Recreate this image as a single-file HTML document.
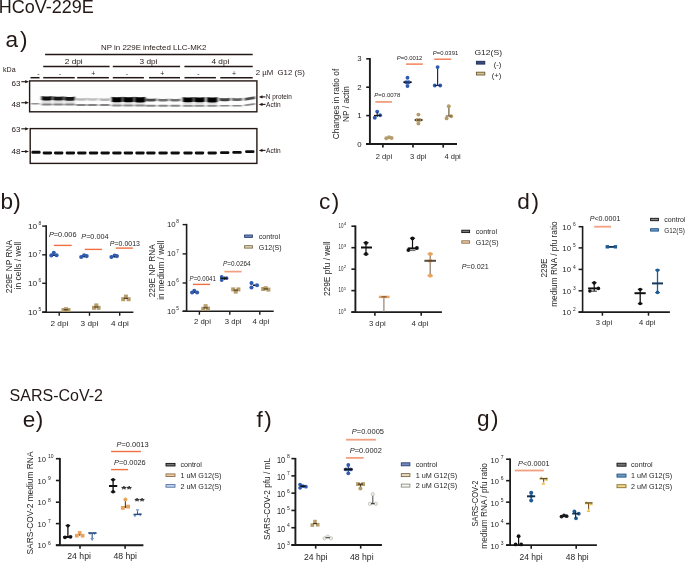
<!DOCTYPE html>
<html><head><meta charset="utf-8"><title>Figure</title><style>
html,body{margin:0;padding:0;background:#fff;}
svg{display:block;font-family:"Liberation Sans",sans-serif;will-change:transform;}
</style></head><body>
<svg width="685" height="562" viewBox="0 0 685 562">
<rect width="685" height="562" fill="#fff"/>
<text x="-1.3" y="13.0" font-size="17.8" textLength="95.2" lengthAdjust="spacingAndGlyphs" fill="#231815">HCoV-229E</text>
<text x="5.4" y="46.5" font-size="22.6" textLength="22.2" lengthAdjust="spacing" fill="#231815">a)</text>
<text x="0.6" y="208.8" font-size="22.6" textLength="20.3" lengthAdjust="spacing" fill="#231815">b)</text>
<text x="319.0" y="209.0" font-size="22.6" textLength="20.3" lengthAdjust="spacing" fill="#231815">c)</text>
<text x="517.2" y="208.8" font-size="22.6" textLength="21.8" lengthAdjust="spacing" fill="#231815">d)</text>
<text x="9.6" y="400.5" font-size="15.6" textLength="93.4" lengthAdjust="spacingAndGlyphs" fill="#231815">SARS-CoV-2</text>
<text x="22.8" y="426.9" font-size="22.6" textLength="20.6" lengthAdjust="spacing" fill="#231815">e)</text>
<text x="256.5" y="426.7" font-size="22.6" textLength="15.2" lengthAdjust="spacing" fill="#231815">f)</text>
<text x="476.9" y="426.3" font-size="22.6" textLength="21.6" lengthAdjust="spacing" fill="#231815">g)</text>
<text x="101.0" y="49.9" font-size="7.6" textLength="105.5" lengthAdjust="spacingAndGlyphs" fill="#231815">NP in 229E infected LLC-MK2</text>
<line x1="45.1" y1="54.6" x2="252.7" y2="54.6" stroke="#231815" stroke-width="1.5" stroke-linecap="butt"/>
<line x1="43.2" y1="66.6" x2="109.6" y2="66.6" stroke="#231815" stroke-width="1.5" stroke-linecap="butt"/>
<line x1="112.8" y1="66.6" x2="180.1" y2="66.6" stroke="#231815" stroke-width="1.5" stroke-linecap="butt"/>
<line x1="184.4" y1="66.6" x2="252.7" y2="66.6" stroke="#231815" stroke-width="1.5" stroke-linecap="butt"/>
<text x="73.7" y="63.7" font-size="7.8" text-anchor="middle" textLength="17.9" lengthAdjust="spacingAndGlyphs" fill="#231815">2 dpi</text>
<text x="148.5" y="63.7" font-size="7.8" text-anchor="middle" textLength="17.9" lengthAdjust="spacingAndGlyphs" fill="#231815">3 dpi</text>
<text x="220.4" y="63.7" font-size="7.8" text-anchor="middle" textLength="17.9" lengthAdjust="spacingAndGlyphs" fill="#231815">4 dpi</text>
<line x1="30.5" y1="77.7" x2="39.6" y2="77.7" stroke="#231815" stroke-width="1.5" stroke-linecap="butt"/>
<line x1="43.2" y1="77.7" x2="74.7" y2="77.7" stroke="#231815" stroke-width="1.5" stroke-linecap="butt"/>
<line x1="77.2" y1="77.7" x2="108.9" y2="77.7" stroke="#231815" stroke-width="1.5" stroke-linecap="butt"/>
<line x1="112.8" y1="77.7" x2="143.9" y2="77.7" stroke="#231815" stroke-width="1.5" stroke-linecap="butt"/>
<line x1="149.0" y1="77.7" x2="180.0" y2="77.7" stroke="#231815" stroke-width="1.5" stroke-linecap="butt"/>
<line x1="184.5" y1="77.7" x2="215.9" y2="77.7" stroke="#231815" stroke-width="1.5" stroke-linecap="butt"/>
<line x1="220.3" y1="77.7" x2="252.7" y2="77.7" stroke="#231815" stroke-width="1.5" stroke-linecap="butt"/>
<text x="38.3" y="75.8" font-size="7.0" text-anchor="middle" fill="#231815">-</text>
<text x="60.0" y="75.8" font-size="7.0" text-anchor="middle" fill="#231815">-</text>
<text x="93.3" y="75.8" font-size="7.0" text-anchor="middle" fill="#231815">+</text>
<text x="126.8" y="75.8" font-size="7.0" text-anchor="middle" fill="#231815">-</text>
<text x="162.2" y="75.8" font-size="7.0" text-anchor="middle" fill="#231815">+</text>
<text x="198.4" y="75.8" font-size="7.0" text-anchor="middle" fill="#231815">-</text>
<text x="234.1" y="75.8" font-size="7.0" text-anchor="middle" fill="#231815">+</text>
<text x="3.0" y="72.3" font-size="7.0" textLength="12.6" lengthAdjust="spacingAndGlyphs" fill="#231815">kDa</text>
<text x="255.8" y="75.4" font-size="7.6" textLength="49.0" lengthAdjust="spacingAndGlyphs" fill="#231815">2 µM  G12 (S)</text>
<text x="20.5" y="85.6" font-size="7.8" text-anchor="end" textLength="9.0" lengthAdjust="spacingAndGlyphs" fill="#231815">63</text>
<text x="20.5" y="106.7" font-size="7.8" text-anchor="end" textLength="9.0" lengthAdjust="spacingAndGlyphs" fill="#231815">48</text>
<text x="20.5" y="132.0" font-size="7.8" text-anchor="end" textLength="9.0" lengthAdjust="spacingAndGlyphs" fill="#231815">63</text>
<text x="20.5" y="153.8" font-size="7.8" text-anchor="end" textLength="9.0" lengthAdjust="spacingAndGlyphs" fill="#231815">48</text>
<line x1="21.3" y1="81.7" x2="26.0" y2="81.7" stroke="#231815" stroke-width="1.1" stroke-linecap="butt"/>
<polygon points="25.2,80.10000000000001 29.0,81.7 25.2,83.3" fill="#231815"/>
<line x1="21.3" y1="102.7" x2="26.0" y2="102.7" stroke="#231815" stroke-width="1.1" stroke-linecap="butt"/>
<polygon points="25.2,101.10000000000001 29.0,102.7 25.2,104.3" fill="#231815"/>
<line x1="21.3" y1="128.8" x2="26.0" y2="128.8" stroke="#231815" stroke-width="1.1" stroke-linecap="butt"/>
<polygon points="25.2,127.20000000000002 29.0,128.8 25.2,130.4" fill="#231815"/>
<line x1="21.3" y1="151.5" x2="26.0" y2="151.5" stroke="#231815" stroke-width="1.1" stroke-linecap="butt"/>
<polygon points="25.2,149.9 29.0,151.5 25.2,153.1" fill="#231815"/>
<line x1="261.5" y1="96.9" x2="265.5" y2="96.9" stroke="#231815" stroke-width="1.1" stroke-linecap="butt"/>
<polygon points="262.5,95.30000000000001 258.8,96.9 262.5,98.5" fill="#231815"/>
<line x1="261.5" y1="104.4" x2="265.5" y2="104.4" stroke="#231815" stroke-width="1.1" stroke-linecap="butt"/>
<polygon points="262.5,102.80000000000001 258.8,104.4 262.5,106.0" fill="#231815"/>
<line x1="261.5" y1="150.4" x2="265.5" y2="150.4" stroke="#231815" stroke-width="1.1" stroke-linecap="butt"/>
<polygon points="262.5,148.8 258.8,150.4 262.5,152.0" fill="#231815"/>
<text x="265.8" y="98.9" font-size="7.2" textLength="26.0" lengthAdjust="spacingAndGlyphs" fill="#231815">N protein</text>
<text x="266.0" y="106.6" font-size="7.2" textLength="14.6" lengthAdjust="spacingAndGlyphs" fill="#231815">Actin</text>
<text x="266.0" y="152.6" font-size="7.2" textLength="14.6" lengthAdjust="spacingAndGlyphs" fill="#231815">Actin</text>
<defs><filter id="bl" x="-20%" y="-60%" width="140%" height="220%"><feGaussianBlur stdDeviation="0.85 0.6"/></filter><filter id="bl2" x="-20%" y="-60%" width="140%" height="220%"><feGaussianBlur stdDeviation="0.6 0.5"/></filter><filter id="bl3" x="-20%" y="-60%" width="140%" height="220%"><feGaussianBlur stdDeviation="0.9 0.9"/></filter><clipPath id="c1"><rect x="29.6" y="81" width="227.3" height="30.6"/></clipPath><clipPath id="c2"><rect x="30.2" y="128.6" width="226.7" height="34.8"/></clipPath></defs>
<g clip-path="url(#c1)">
<rect x="29.6" y="81" width="227.3" height="30.6" fill="#fdfdfd"/>
<g filter="url(#bl3)">
<rect x="41.80" y="99.80" width="10" height="4.20" fill="#dcdcdc"/>
<rect x="53.30" y="100.00" width="10" height="4.00" fill="#dcdcdc"/>
<rect x="64.70" y="100.10" width="10" height="3.90" fill="#dcdcdc"/>
<rect x="111.90" y="101.70" width="10" height="3.20" fill="#dcdcdc"/>
<rect x="123.40" y="101.70" width="10" height="3.20" fill="#dcdcdc"/>
<rect x="135.00" y="101.80" width="10" height="3.10" fill="#dcdcdc"/>
<rect x="183.00" y="101.70" width="10" height="3.80" fill="#dcdcdc"/>
<rect x="194.50" y="101.70" width="10" height="3.80" fill="#dcdcdc"/>
<rect x="207.20" y="101.80" width="10" height="3.70" fill="#dcdcdc"/>
</g>
<g filter="url(#bl)">
<rect x="30.70" y="102.9" width="9.0" height="1.70" rx="1.2" fill="rgb(145,145,145)"/>
<rect x="41.50" y="103.5" width="10.6" height="2.00" rx="1.2" fill="rgb(130,130,130)"/>
<path d="M41.50,96.10 Q46.80,97.10 52.10,96.10 L52.10,99.90 Q46.80,100.90 41.50,99.90Z" fill="rgb(8,8,8)"/>
<rect x="53.00" y="103.5" width="10.6" height="2.00" rx="1.2" fill="rgb(130,130,130)"/>
<path d="M53.00,96.30 Q58.30,97.30 63.60,96.30 L63.60,100.10 Q58.30,101.10 53.00,100.10Z" fill="rgb(18,18,18)"/>
<rect x="64.40" y="103.5" width="10.6" height="2.00" rx="1.2" fill="rgb(130,130,130)"/>
<path d="M64.40,96.50 Q69.70,97.50 75.00,96.50 L75.00,100.20 Q69.70,101.20 64.40,100.20Z" fill="rgb(22,22,22)"/>
<rect x="75.80" y="104.0" width="10.6" height="1.90" rx="1.2" fill="rgb(130,130,130)"/>
<path d="M75.80,97.70 Q81.10,98.70 86.40,97.70 L86.40,100.20 Q81.10,101.20 75.80,100.20Z" fill="rgb(185,185,185)"/>
<rect x="87.10" y="104.0" width="10.6" height="1.90" rx="1.2" fill="rgb(130,130,130)"/>
<path d="M87.10,97.80 Q92.40,98.80 97.70,97.80 L97.70,100.30 Q92.40,101.30 87.10,100.30Z" fill="rgb(192,192,192)"/>
<rect x="99.40" y="104.0" width="10.6" height="1.90" rx="1.2" fill="rgb(130,130,130)"/>
<path d="M99.40,97.90 Q104.70,98.90 110.00,97.90 L110.00,100.50 Q104.70,101.50 99.40,100.50Z" fill="rgb(180,180,180)"/>
<rect x="111.60" y="104.4" width="10.6" height="2.00" rx="1.2" fill="rgb(140,140,140)"/>
<path d="M111.60,96.70 Q116.90,97.70 122.20,96.70 L122.20,101.80 Q116.90,102.80 111.60,101.80Z" fill="rgb(0,0,0)"/>
<rect x="123.10" y="104.4" width="10.6" height="2.00" rx="1.2" fill="rgb(140,140,140)"/>
<path d="M123.10,96.70 Q128.40,97.70 133.70,96.70 L133.70,101.80 Q128.40,102.80 123.10,101.80Z" fill="rgb(0,0,0)"/>
<rect x="134.70" y="104.4" width="10.6" height="2.00" rx="1.2" fill="rgb(140,140,140)"/>
<path d="M134.70,96.80 Q140.00,97.80 145.30,96.80 L145.30,101.90 Q140.00,102.90 134.70,101.90Z" fill="rgb(0,0,0)"/>
<rect x="145.60" y="104.7" width="10.6" height="2.00" rx="1.2" fill="rgb(135,135,135)"/>
<path d="M145.60,98.20 Q150.90,99.20 156.20,98.20 L156.20,101.10 Q150.90,102.10 145.60,101.10Z" fill="rgb(70,70,70)"/>
<rect x="157.80" y="104.7" width="10.6" height="2.00" rx="1.2" fill="rgb(135,135,135)"/>
<path d="M157.80,98.40 Q163.10,99.40 168.40,98.40 L168.40,101.10 Q163.10,102.10 157.80,101.10Z" fill="rgb(110,110,110)"/>
<rect x="169.90" y="104.7" width="10.6" height="2.00" rx="1.2" fill="rgb(135,135,135)"/>
<path d="M169.90,98.40 Q175.20,99.40 180.50,98.40 L180.50,101.10 Q175.20,102.10 169.90,101.10Z" fill="rgb(110,110,110)"/>
<rect x="182.70" y="105.0" width="10.6" height="1.80" rx="1.2" fill="rgb(140,140,140)"/>
<path d="M182.70,97.00 Q188.00,98.00 193.30,97.00 L193.30,101.80 Q188.00,102.80 182.70,101.80Z" fill="rgb(0,0,0)"/>
<rect x="194.20" y="105.0" width="10.6" height="1.80" rx="1.2" fill="rgb(140,140,140)"/>
<path d="M194.20,97.00 Q199.50,98.00 204.80,97.00 L204.80,101.80 Q199.50,102.80 194.20,101.80Z" fill="rgb(0,0,0)"/>
<rect x="206.90" y="105.0" width="10.6" height="1.80" rx="1.2" fill="rgb(140,140,140)"/>
<path d="M206.90,97.10 Q212.20,98.10 217.50,97.10 L217.50,101.90 Q212.20,102.90 206.90,101.90Z" fill="rgb(2,2,2)"/>
<rect x="219.40" y="104.9" width="10.6" height="1.70" rx="1.2" fill="rgb(135,135,135)"/>
<path d="M219.40,97.70 Q224.70,98.70 230.00,97.70 L230.00,100.70 Q224.70,101.70 219.40,100.70Z" fill="rgb(65,65,65)"/>
<rect x="231.70" y="104.9" width="10.6" height="1.70" rx="1.2" fill="rgb(135,135,135)"/>
<path d="M231.70,97.80 Q237.00,98.80 242.30,97.80 L242.30,100.50 Q237.00,101.50 231.70,100.50Z" fill="rgb(100,100,100)"/>
<path d="M244.50,104.50 L255.10,103.10 L255.10,104.80 L244.50,106.20Z" fill="rgb(135,135,135)"/>
<path d="M244.50,97.90 L255.10,96.20 L255.10,99.00 L244.50,100.70Z" fill="rgb(75,75,75)"/>
</g></g>
<rect x="29.6" y="80.9" width="227.3" height="30.9" fill="none" stroke="#231815" stroke-width="1.4"/>
<g clip-path="url(#c2)">
<rect x="30.2" y="128.6" width="226.7" height="34.8" fill="#fefefe"/>
<g filter="url(#bl2)">
<rect x="31.40" y="150.80" width="9.2" height="2.9" rx="1.3" fill="#101010"/>
<rect x="42.70" y="151.50" width="9.4" height="2.9" rx="1.3" fill="#101010"/>
<rect x="54.00" y="151.50" width="9.4" height="2.9" rx="1.3" fill="#101010"/>
<rect x="65.70" y="151.50" width="9.4" height="2.9" rx="1.3" fill="#101010"/>
<rect x="77.10" y="151.50" width="9.4" height="2.9" rx="1.3" fill="#101010"/>
<rect x="88.80" y="151.50" width="9.4" height="2.9" rx="1.3" fill="#101010"/>
<rect x="100.50" y="151.50" width="9.4" height="2.9" rx="1.3" fill="#101010"/>
<rect x="112.20" y="151.50" width="9.4" height="2.9" rx="1.3" fill="#101010"/>
<rect x="123.70" y="151.50" width="9.4" height="2.9" rx="1.3" fill="#101010"/>
<rect x="135.30" y="151.50" width="9.4" height="2.9" rx="1.3" fill="#101010"/>
<rect x="146.20" y="151.50" width="9.4" height="2.9" rx="1.3" fill="#101010"/>
<rect x="158.40" y="151.50" width="9.4" height="2.9" rx="1.3" fill="#101010"/>
<rect x="170.50" y="151.50" width="9.4" height="2.9" rx="1.3" fill="#101010"/>
<rect x="183.30" y="151.50" width="9.4" height="2.9" rx="1.3" fill="#101010"/>
<rect x="194.80" y="151.50" width="9.4" height="2.9" rx="1.3" fill="#101010"/>
<rect x="207.50" y="151.50" width="9.4" height="2.9" rx="1.3" fill="#101010"/>
<rect x="220.00" y="151.20" width="9.4" height="2.9" rx="1.3" fill="#101010"/>
<rect x="232.30" y="150.90" width="9.4" height="2.9" rx="1.3" fill="#101010"/>
<rect x="245.10" y="150.20" width="9.4" height="2.9" rx="1.3" fill="#101010"/>
</g></g>
<rect x="30.2" y="128.6" width="226.7" height="34.8" fill="none" stroke="#231815" stroke-width="1.4"/>
<line x1="369.9" y1="58.0" x2="369.9" y2="144.9" stroke="#1c1c1c" stroke-width="1.9" stroke-linecap="butt"/>
<line x1="366.0" y1="144.0" x2="457.0" y2="144.0" stroke="#1c1c1c" stroke-width="1.9" stroke-linecap="butt"/>
<line x1="366.2" y1="144.0" x2="369.9" y2="144.0" stroke="#1c1c1c" stroke-width="1.6" stroke-linecap="butt"/>
<text x="361.6" y="146.5" font-size="7.8" text-anchor="end" fill="#262626">0</text>
<line x1="366.2" y1="115.6" x2="369.9" y2="115.6" stroke="#1c1c1c" stroke-width="1.6" stroke-linecap="butt"/>
<text x="361.6" y="118.1" font-size="7.8" text-anchor="end" fill="#262626">1</text>
<line x1="366.2" y1="87.2" x2="369.9" y2="87.2" stroke="#1c1c1c" stroke-width="1.6" stroke-linecap="butt"/>
<text x="361.6" y="89.7" font-size="7.8" text-anchor="end" fill="#262626">2</text>
<line x1="366.2" y1="58.80000000000001" x2="369.9" y2="58.80000000000001" stroke="#1c1c1c" stroke-width="1.6" stroke-linecap="butt"/>
<text x="361.6" y="61.30000000000001" font-size="7.8" text-anchor="end" fill="#262626">3</text>
<line x1="382.9" y1="144.0" x2="382.9" y2="147.6" stroke="#1c1c1c" stroke-width="1.7" stroke-linecap="butt"/>
<line x1="413.0" y1="144.0" x2="413.0" y2="147.6" stroke="#1c1c1c" stroke-width="1.7" stroke-linecap="butt"/>
<line x1="443.2" y1="144.0" x2="443.2" y2="147.6" stroke="#1c1c1c" stroke-width="1.7" stroke-linecap="butt"/>
<text x="384.0" y="159.3" font-size="7.8" text-anchor="middle" textLength="16.4" lengthAdjust="spacingAndGlyphs" fill="#262626">2 dpi</text>
<text x="418.3" y="159.3" font-size="7.8" text-anchor="middle" textLength="16.4" lengthAdjust="spacingAndGlyphs" fill="#262626">3 dpi</text>
<text x="452.6" y="159.3" font-size="7.8" text-anchor="middle" textLength="16.4" lengthAdjust="spacingAndGlyphs" fill="#262626">4 dpi</text>
<text transform="translate(339.31,104.0) rotate(-90)" x="0" y="0" font-size="8.3" text-anchor="middle" textLength="70.5" lengthAdjust="spacingAndGlyphs" fill="#262626">Changes in ratio of</text>
<text transform="translate(349.01,104.0) rotate(-90)" x="0" y="0" font-size="8.3" text-anchor="middle" fill="#262626">NP / actin</text>
<circle cx="377.2" cy="111.6" r="1.95" fill="#2f5cb0"/>
<circle cx="380.1" cy="115.3" r="1.95" fill="#2f5cb0"/>
<circle cx="374.8" cy="117.7" r="1.95" fill="#2f5cb0"/>
<line x1="374.0" y1="115.4" x2="381.0" y2="115.4" stroke="#111" stroke-width="1.1" stroke-linecap="butt"/>
<line x1="377.2" y1="112.5" x2="377.2" y2="117.0" stroke="#111" stroke-width="1.0" stroke-linecap="butt"/>
<circle cx="386.3" cy="138.2" r="1.95" fill="#b49c6b"/>
<circle cx="389.0" cy="137.3" r="1.95" fill="#b49c6b"/>
<circle cx="391.6" cy="138.0" r="1.95" fill="#b49c6b"/>
<circle cx="407.5" cy="77.7" r="1.95" fill="#2f5cb0"/>
<circle cx="406.2" cy="82.2" r="1.95" fill="#2f5cb0"/>
<circle cx="408.7" cy="82.2" r="1.95" fill="#2f5cb0"/>
<circle cx="407.5" cy="86.0" r="1.95" fill="#2f5cb0"/>
<line x1="403.4" y1="82.2" x2="405.4" y2="82.2" stroke="#111" stroke-width="1.7" stroke-linecap="butt"/>
<line x1="409.8" y1="82.2" x2="411.7" y2="82.2" stroke="#111" stroke-width="1.7" stroke-linecap="butt"/>
<line x1="406.0" y1="82.2" x2="409.0" y2="82.2" stroke="#10204a" stroke-width="1.0" stroke-linecap="butt"/>
<circle cx="418.4" cy="114.6" r="1.95" fill="#b49c6b"/>
<circle cx="417.2" cy="120.0" r="1.95" fill="#b49c6b"/>
<circle cx="419.8" cy="120.0" r="1.95" fill="#b49c6b"/>
<circle cx="418.4" cy="123.6" r="1.95" fill="#b49c6b"/>
<line x1="414.7" y1="120.0" x2="416.2" y2="120.0" stroke="#3a2e18" stroke-width="1.7" stroke-linecap="butt"/>
<line x1="420.8" y1="120.0" x2="422.6" y2="120.0" stroke="#3a2e18" stroke-width="1.7" stroke-linecap="butt"/>
<line x1="417.0" y1="120.0" x2="420.0" y2="120.0" stroke="#3a2e18" stroke-width="1.1" stroke-linecap="butt"/>
<line x1="437.6" y1="67.1" x2="437.6" y2="85.5" stroke="#1d2b57" stroke-width="1.2" stroke-linecap="butt"/>
<circle cx="437.6" cy="67.1" r="1.95" fill="#2f5cb0"/>
<circle cx="434.8" cy="85.5" r="1.95" fill="#2f5cb0"/>
<circle cx="440.2" cy="85.5" r="1.95" fill="#2f5cb0"/>
<line x1="434.5" y1="85.5" x2="440.5" y2="85.5" stroke="#1d2b57" stroke-width="1.0" stroke-linecap="butt"/>
<line x1="448.9" y1="106.2" x2="448.9" y2="116.0" stroke="#6b5a33" stroke-width="1.2" stroke-linecap="butt"/>
<circle cx="448.8" cy="106.2" r="1.95" fill="#b49c6b"/>
<circle cx="446.6" cy="118.4" r="1.95" fill="#b49c6b"/>
<circle cx="451.2" cy="116.3" r="1.95" fill="#b49c6b"/>
<line x1="445.8" y1="116.0" x2="451.8" y2="116.0" stroke="#6b5a33" stroke-width="1.1" stroke-linecap="butt"/>
<text x="374.3" y="97.2" font-size="6.1" textLength="26.0" lengthAdjust="spacingAndGlyphs" fill="#262626"><tspan font-style="italic">P</tspan>=0.0078</text>
<line x1="375.4" y1="101.9" x2="392.0" y2="101.9" stroke="#f1a081" stroke-width="1.9" stroke-linecap="butt"/>
<text x="396.8" y="59.8" font-size="6.1" textLength="25.5" lengthAdjust="spacingAndGlyphs" fill="#262626"><tspan font-style="italic">P</tspan>=0.0012</text>
<line x1="406.0" y1="64.1" x2="422.8" y2="64.1" stroke="#ef6f40" stroke-width="1.3" stroke-linecap="butt"/>
<text x="432.8" y="54.5" font-size="6.1" textLength="25.4" lengthAdjust="spacingAndGlyphs" fill="#262626"><tspan font-style="italic">P</tspan>=0.0391</text>
<line x1="434.2" y1="59.2" x2="451.2" y2="59.2" stroke="#ef6f40" stroke-width="1.3" stroke-linecap="butt"/>
<text x="474.4" y="55.3" font-size="8.0" textLength="27.6" lengthAdjust="spacingAndGlyphs" fill="#262626">G12(S)</text>
<rect x="476.4" y="61.3" width="8.4" height="2.8" fill="#3c4c7c" stroke="#1d2b57" stroke-width="0.9"/>
<text x="501.3" y="67.4" font-size="7.6" text-anchor="end" fill="#262626">(-)</text>
<rect x="476.4" y="72.2" width="8.4" height="2.8" fill="#d4c49c" stroke="#6e5a32" stroke-width="0.9"/>
<text x="501.3" y="77.9" font-size="7.6" text-anchor="end" fill="#262626">(+)</text>
<line x1="46.2" y1="225.35" x2="46.2" y2="312.95" stroke="#1c1c1c" stroke-width="1.6" stroke-linecap="butt"/>
<line x1="42.2" y1="312.2" x2="133.4" y2="312.2" stroke="#1c1c1c" stroke-width="1.6" stroke-linecap="butt"/>
<line x1="42.2" y1="226.1" x2="46.2" y2="226.1" stroke="#1c1c1c" stroke-width="1.4" stroke-linecap="butt"/>
<text x="27.990000000000002" y="228.6" font-size="8.0" textLength="9.26" lengthAdjust="spacingAndGlyphs" fill="#262626">10</text>
<text x="38.6" y="224.79999999999998" font-size="4.8" fill="#262626">8</text>
<line x1="42.2" y1="254.8" x2="46.2" y2="254.8" stroke="#1c1c1c" stroke-width="1.4" stroke-linecap="butt"/>
<text x="27.990000000000002" y="257.3" font-size="8.0" textLength="9.26" lengthAdjust="spacingAndGlyphs" fill="#262626">10</text>
<text x="38.6" y="253.5" font-size="4.8" fill="#262626">7</text>
<line x1="42.2" y1="283.3" x2="46.2" y2="283.3" stroke="#1c1c1c" stroke-width="1.4" stroke-linecap="butt"/>
<text x="27.990000000000002" y="285.8" font-size="8.0" textLength="9.26" lengthAdjust="spacingAndGlyphs" fill="#262626">10</text>
<text x="38.6" y="282.0" font-size="4.8" fill="#262626">6</text>
<line x1="42.2" y1="312.0" x2="46.2" y2="312.0" stroke="#1c1c1c" stroke-width="1.4" stroke-linecap="butt"/>
<text x="27.990000000000002" y="314.5" font-size="8.0" textLength="9.26" lengthAdjust="spacingAndGlyphs" fill="#262626">10</text>
<text x="38.6" y="310.7" font-size="4.8" fill="#262626">5</text>
<line x1="59.2" y1="312.2" x2="59.2" y2="315.8" stroke="#1c1c1c" stroke-width="1.4" stroke-linecap="butt"/>
<line x1="89.5" y1="312.2" x2="89.5" y2="315.8" stroke="#1c1c1c" stroke-width="1.4" stroke-linecap="butt"/>
<line x1="119.7" y1="312.2" x2="119.7" y2="315.8" stroke="#1c1c1c" stroke-width="1.4" stroke-linecap="butt"/>
<text x="59.4" y="326.4" font-size="7.8" text-anchor="middle" textLength="17.8" lengthAdjust="spacingAndGlyphs" fill="#262626">2 dpi</text>
<text x="89.5" y="326.4" font-size="7.8" text-anchor="middle" textLength="17.8" lengthAdjust="spacingAndGlyphs" fill="#262626">3 dpi</text>
<text x="119.9" y="326.4" font-size="7.8" text-anchor="middle" textLength="17.8" lengthAdjust="spacingAndGlyphs" fill="#262626">4 dpi</text>
<text transform="translate(11.84,266.5) rotate(-90)" x="0" y="0" font-size="8.4" text-anchor="middle" textLength="53.4" lengthAdjust="spacingAndGlyphs" fill="#262626">229E NP RNA</text>
<text transform="translate(20.89,265.6) rotate(-90)" x="0" y="0" font-size="8.6" text-anchor="middle" textLength="47.5" lengthAdjust="spacingAndGlyphs" fill="#262626">in cells / well</text>
<line x1="52.6" y1="255.2" x2="55.199999999999996" y2="255.2" stroke="#111" stroke-width="1.4" stroke-linecap="butt"/>
<circle cx="51.3" cy="255.4" r="2.05" fill="#2f5cb0"/>
<circle cx="53.8" cy="252.8" r="2.05" fill="#2f5cb0"/>
<circle cx="56.6" cy="255.3" r="2.05" fill="#2f5cb0"/>
<circle cx="53.9" cy="255.2" r="0.7" fill="#10204a"/>
<line x1="82.8" y1="256.6" x2="85.39999999999999" y2="256.6" stroke="#111" stroke-width="1.4" stroke-linecap="butt"/>
<circle cx="81.2" cy="257.0" r="2.05" fill="#2f5cb0"/>
<circle cx="84.1" cy="255.2" r="2.05" fill="#2f5cb0"/>
<circle cx="86.7" cy="256.1" r="2.05" fill="#2f5cb0"/>
<circle cx="84.1" cy="256.6" r="0.7" fill="#10204a"/>
<line x1="113.10000000000001" y1="256.6" x2="115.7" y2="256.6" stroke="#111" stroke-width="1.4" stroke-linecap="butt"/>
<circle cx="111.4" cy="257.0" r="2.05" fill="#2f5cb0"/>
<circle cx="114.6" cy="255.5" r="2.05" fill="#2f5cb0"/>
<circle cx="116.9" cy="256.1" r="2.05" fill="#2f5cb0"/>
<circle cx="114.4" cy="256.6" r="0.7" fill="#10204a"/>
<rect x="61.5" y="308.0" width="4.0" height="4.0" fill="#b49c6b"/>
<rect x="64.0" y="307.2" width="4.0" height="4.0" fill="#b49c6b"/>
<rect x="66.5" y="308.0" width="4.0" height="4.0" fill="#b49c6b"/>
<line x1="63.8" y1="309.73333333333335" x2="68.2" y2="309.73333333333335" stroke="#4a3a1a" stroke-width="1.1" stroke-linecap="butt"/>
<rect x="92.0" y="305.8" width="4.0" height="4.0" fill="#b49c6b"/>
<rect x="94.3" y="303.4" width="4.0" height="4.0" fill="#b49c6b"/>
<rect x="96.6" y="305.8" width="4.0" height="4.0" fill="#b49c6b"/>
<line x1="94.1" y1="307.0" x2="98.5" y2="307.0" stroke="#4a3a1a" stroke-width="1.1" stroke-linecap="butt"/>
<rect x="121.2" y="297.2" width="4.0" height="4.0" fill="#b49c6b"/>
<rect x="123.9" y="294.6" width="4.0" height="4.0" fill="#b49c6b"/>
<rect x="126.6" y="297.2" width="4.0" height="4.0" fill="#b49c6b"/>
<line x1="123.69999999999999" y1="298.3333333333333" x2="128.1" y2="298.3333333333333" stroke="#4a3a1a" stroke-width="1.1" stroke-linecap="butt"/>
<text x="48.9" y="236.6" font-size="7.4" textLength="27.6" lengthAdjust="spacingAndGlyphs" fill="#262626"><tspan font-style="italic">P</tspan>=0.006</text>
<line x1="53.9" y1="245.4" x2="71.7" y2="245.4" stroke="#ef6f40" stroke-width="1.4" stroke-linecap="butt"/>
<text x="81.3" y="239.1" font-size="7.4" textLength="27.2" lengthAdjust="spacingAndGlyphs" fill="#262626"><tspan font-style="italic">P</tspan>=0.004</text>
<line x1="84.8" y1="249.4" x2="101.9" y2="249.4" stroke="#ef6f40" stroke-width="1.4" stroke-linecap="butt"/>
<text x="109.8" y="245.5" font-size="7.4" textLength="30.2" lengthAdjust="spacingAndGlyphs" fill="#262626"><tspan font-style="italic">P</tspan>=0.0013</text>
<line x1="115.8" y1="248.1" x2="132.9" y2="248.1" stroke="#ef6f40" stroke-width="1.4" stroke-linecap="butt"/>
<line x1="186.6" y1="223.85" x2="186.6" y2="311.95" stroke="#1c1c1c" stroke-width="1.6" stroke-linecap="butt"/>
<line x1="182.6" y1="311.2" x2="273.7" y2="311.2" stroke="#1c1c1c" stroke-width="1.6" stroke-linecap="butt"/>
<line x1="182.6" y1="224.6" x2="186.6" y2="224.6" stroke="#1c1c1c" stroke-width="1.4" stroke-linecap="butt"/>
<text x="166.95" y="227.1" font-size="8.0" textLength="8.68" lengthAdjust="spacingAndGlyphs" fill="#262626">10</text>
<text x="176.3" y="223.29999999999998" font-size="4.8" fill="#262626">8</text>
<line x1="182.6" y1="253.9" x2="186.6" y2="253.9" stroke="#1c1c1c" stroke-width="1.4" stroke-linecap="butt"/>
<text x="166.95" y="256.4" font-size="8.0" textLength="8.68" lengthAdjust="spacingAndGlyphs" fill="#262626">10</text>
<text x="176.3" y="252.6" font-size="4.8" fill="#262626">7</text>
<line x1="182.6" y1="283.0" x2="186.6" y2="283.0" stroke="#1c1c1c" stroke-width="1.4" stroke-linecap="butt"/>
<text x="166.95" y="285.5" font-size="8.0" textLength="8.68" lengthAdjust="spacingAndGlyphs" fill="#262626">10</text>
<text x="176.3" y="281.7" font-size="4.8" fill="#262626">6</text>
<line x1="182.6" y1="311.2" x2="186.6" y2="311.2" stroke="#1c1c1c" stroke-width="1.4" stroke-linecap="butt"/>
<text x="166.95" y="313.7" font-size="8.0" textLength="8.68" lengthAdjust="spacingAndGlyphs" fill="#262626">10</text>
<text x="176.3" y="309.9" font-size="4.8" fill="#262626">5</text>
<line x1="199.4" y1="311.2" x2="199.4" y2="314.8" stroke="#1c1c1c" stroke-width="1.4" stroke-linecap="butt"/>
<line x1="229.8" y1="311.2" x2="229.8" y2="314.8" stroke="#1c1c1c" stroke-width="1.4" stroke-linecap="butt"/>
<line x1="259.8" y1="311.2" x2="259.8" y2="314.8" stroke="#1c1c1c" stroke-width="1.4" stroke-linecap="butt"/>
<text x="202.5" y="324.2" font-size="7.6" text-anchor="middle" textLength="16.8" lengthAdjust="spacingAndGlyphs" fill="#262626">2 dpi</text>
<text x="233.1" y="324.2" font-size="7.6" text-anchor="middle" textLength="16.8" lengthAdjust="spacingAndGlyphs" fill="#262626">3 dpi</text>
<text x="260.9" y="324.2" font-size="7.6" text-anchor="middle" textLength="16.8" lengthAdjust="spacingAndGlyphs" fill="#262626">4 dpi</text>
<text transform="translate(154.94,270.8) rotate(-90)" x="0" y="0" font-size="8.4" text-anchor="middle" textLength="53.0" lengthAdjust="spacingAndGlyphs" fill="#262626">229E NP RNA</text>
<text transform="translate(164.09,270.2) rotate(-90)" x="0" y="0" font-size="8.6" text-anchor="middle" textLength="59.2" lengthAdjust="spacingAndGlyphs" fill="#262626">in medium / well</text>
<line x1="193.2" y1="292.3" x2="195.8" y2="292.3" stroke="#111" stroke-width="1.4" stroke-linecap="butt"/>
<circle cx="192.1" cy="292.5" r="2.05" fill="#2f5cb0"/>
<circle cx="194.3" cy="290.9" r="2.05" fill="#2f5cb0"/>
<circle cx="197.1" cy="292.5" r="2.05" fill="#2f5cb0"/>
<circle cx="194.5" cy="292.3" r="0.7" fill="#10204a"/>
<rect x="201.2" y="306.8" width="4.0" height="4.0" fill="#b49c6b"/>
<rect x="203.6" y="304.2" width="4.0" height="4.0" fill="#b49c6b"/>
<rect x="206.0" y="306.6" width="4.0" height="4.0" fill="#b49c6b"/>
<line x1="203.4" y1="307.8666666666667" x2="207.79999999999998" y2="307.8666666666667" stroke="#4a3a1a" stroke-width="1.1" stroke-linecap="butt"/>
<circle cx="221.7" cy="276.9" r="1.9" fill="#2f5cb0"/>
<circle cx="221.7" cy="280.0" r="1.9" fill="#2f5cb0"/>
<circle cx="226.5" cy="278.2" r="1.9" fill="#2f5cb0"/>
<line x1="220.5" y1="278.3" x2="227.5" y2="278.3" stroke="#111" stroke-width="1.3" stroke-linecap="butt"/>
<line x1="224.2" y1="276.6" x2="224.2" y2="280.0" stroke="#111" stroke-width="1.2" stroke-linecap="butt"/>
<rect x="231.2" y="287.4" width="4.0" height="4.0" fill="#b49c6b"/>
<rect x="233.7" y="289.6" width="4.0" height="4.0" fill="#b49c6b"/>
<rect x="236.4" y="287.4" width="4.0" height="4.0" fill="#b49c6b"/>
<line x1="233.56666666666666" y1="290.1333333333333" x2="237.96666666666664" y2="290.1333333333333" stroke="#4a3a1a" stroke-width="1.1" stroke-linecap="butt"/>
<line x1="253.0" y1="285.3" x2="255.60000000000002" y2="285.3" stroke="#111" stroke-width="1.4" stroke-linecap="butt"/>
<circle cx="251.5" cy="283.1" r="2.05" fill="#2f5cb0"/>
<circle cx="251.5" cy="287.5" r="2.05" fill="#2f5cb0"/>
<circle cx="257.0" cy="285.3" r="2.05" fill="#2f5cb0"/>
<circle cx="254.3" cy="285.3" r="0.7" fill="#10204a"/>
<rect x="261.2" y="287.0" width="4.0" height="4.0" fill="#b49c6b"/>
<rect x="263.7" y="286.2" width="4.0" height="4.0" fill="#b49c6b"/>
<rect x="266.4" y="287.6" width="4.0" height="4.0" fill="#b49c6b"/>
<line x1="263.56666666666666" y1="288.93333333333334" x2="267.96666666666664" y2="288.93333333333334" stroke="#4a3a1a" stroke-width="1.1" stroke-linecap="butt"/>
<text x="189.6" y="281.3" font-size="6.6" textLength="26.3" lengthAdjust="spacingAndGlyphs" fill="#262626"><tspan font-style="italic">P</tspan>=0.0041</text>
<line x1="193.0" y1="284.4" x2="210.0" y2="284.4" stroke="#ef6f40" stroke-width="1.4" stroke-linecap="butt"/>
<text x="223.0" y="266.0" font-size="6.6" textLength="27.6" lengthAdjust="spacingAndGlyphs" fill="#262626"><tspan font-style="italic">P</tspan>=0.0264</text>
<line x1="224.4" y1="271.6" x2="241.6" y2="271.6" stroke="#f1a081" stroke-width="1.7" stroke-linecap="butt"/>
<rect x="244.6" y="235.0" width="7.8" height="2.4" fill="#7089be" stroke="#2a3f73" stroke-width="0.9"/>
<text x="258.8" y="238.9" font-size="7.2" textLength="21.3" lengthAdjust="spacingAndGlyphs" fill="#262626">control</text>
<rect x="244.6" y="245.7" width="7.8" height="2.4" fill="#e4d9bf" stroke="#7b6a45" stroke-width="0.9"/>
<text x="258.8" y="249.6" font-size="7.2" textLength="22.8" lengthAdjust="spacingAndGlyphs" fill="#262626">G12(S)</text>
<line x1="355.4" y1="225.45" x2="355.4" y2="312.85" stroke="#1c1c1c" stroke-width="1.9" stroke-linecap="butt"/>
<line x1="351.4" y1="312.1" x2="441.9" y2="312.1" stroke="#1c1c1c" stroke-width="1.9" stroke-linecap="butt"/>
<line x1="351.4" y1="226.2" x2="355.4" y2="226.2" stroke="#1c1c1c" stroke-width="1.6" stroke-linecap="butt"/>
<text x="338.41999999999996" y="227.79999999999998" font-size="6.4" textLength="4.98" lengthAdjust="spacingAndGlyphs" fill="#262626">10</text>
<text x="343.8" y="225.39999999999998" font-size="4.4" fill="#262626">4</text>
<line x1="351.4" y1="247.67499999999998" x2="355.4" y2="247.67499999999998" stroke="#1c1c1c" stroke-width="1.6" stroke-linecap="butt"/>
<text x="338.41999999999996" y="249.27499999999998" font-size="6.4" textLength="4.98" lengthAdjust="spacingAndGlyphs" fill="#262626">10</text>
<text x="343.8" y="246.87499999999997" font-size="4.4" fill="#262626">3</text>
<line x1="351.4" y1="269.15" x2="355.4" y2="269.15" stroke="#1c1c1c" stroke-width="1.6" stroke-linecap="butt"/>
<text x="338.41999999999996" y="270.75" font-size="6.4" textLength="4.98" lengthAdjust="spacingAndGlyphs" fill="#262626">10</text>
<text x="343.8" y="268.34999999999997" font-size="4.4" fill="#262626">2</text>
<line x1="351.4" y1="290.625" x2="355.4" y2="290.625" stroke="#1c1c1c" stroke-width="1.6" stroke-linecap="butt"/>
<text x="338.41999999999996" y="292.225" font-size="6.4" textLength="4.98" lengthAdjust="spacingAndGlyphs" fill="#262626">10</text>
<text x="343.8" y="289.825" font-size="4.4" fill="#262626">1</text>
<line x1="351.4" y1="312.1" x2="355.4" y2="312.1" stroke="#1c1c1c" stroke-width="1.6" stroke-linecap="butt"/>
<text x="338.41999999999996" y="313.70000000000005" font-size="6.4" textLength="4.98" lengthAdjust="spacingAndGlyphs" fill="#262626">10</text>
<text x="343.8" y="311.3" font-size="4.4" fill="#262626">0</text>
<line x1="374.9" y1="312.1" x2="374.9" y2="315.70000000000005" stroke="#1c1c1c" stroke-width="1.6" stroke-linecap="butt"/>
<line x1="421.2" y1="312.1" x2="421.2" y2="315.70000000000005" stroke="#1c1c1c" stroke-width="1.6" stroke-linecap="butt"/>
<text x="377.3" y="325.6" font-size="7.2" text-anchor="middle" textLength="16.8" lengthAdjust="spacingAndGlyphs" fill="#262626">3 dpi</text>
<text x="420.0" y="325.6" font-size="7.2" text-anchor="middle" textLength="16.8" lengthAdjust="spacingAndGlyphs" fill="#262626">4 dpi</text>
<text transform="translate(329.81,268.7) rotate(-90)" x="0" y="0" font-size="8.3" text-anchor="middle" textLength="54.7" lengthAdjust="spacingAndGlyphs" fill="#262626">229E pfu / well</text>
<line x1="366.0" y1="242.7" x2="366.0" y2="254.2" stroke="#111" stroke-width="1.2" stroke-linecap="butt"/>
<circle cx="366.0" cy="242.9" r="1.9" fill="#111"/>
<circle cx="366.0" cy="254.0" r="1.9" fill="#111"/>
<line x1="363.4" y1="242.7" x2="368.6" y2="242.7" stroke="#111" stroke-width="1.1" stroke-linecap="butt"/>
<line x1="363.4" y1="254.2" x2="368.6" y2="254.2" stroke="#111" stroke-width="1.1" stroke-linecap="butt"/>
<line x1="361.0" y1="247.5" x2="372.0" y2="247.5" stroke="#111" stroke-width="2.0" stroke-linecap="butt"/>
<line x1="383.9" y1="296.9" x2="383.9" y2="312.0" stroke="#8c7a66" stroke-width="1.1" stroke-linecap="butt"/>
<line x1="378.9" y1="296.9" x2="389.5" y2="296.9" stroke="#eaa35c" stroke-width="2.4" stroke-linecap="butt"/>
<line x1="381.5" y1="296.9" x2="386.5" y2="296.9" stroke="#5a4a3a" stroke-width="1.0" stroke-linecap="butt"/>
<line x1="412.5" y1="238.2" x2="412.5" y2="248.4" stroke="#111" stroke-width="1.2" stroke-linecap="butt"/>
<circle cx="412.5" cy="238.4" r="1.9" fill="#111"/>
<circle cx="408.4" cy="250.1" r="1.9" fill="#111"/>
<circle cx="416.9" cy="248.0" r="1.9" fill="#111"/>
<line x1="409.9" y1="238.2" x2="415.1" y2="238.2" stroke="#111" stroke-width="1.1" stroke-linecap="butt"/>
<line x1="407.8" y1="248.4" x2="416.7" y2="248.4" stroke="#111" stroke-width="2.0" stroke-linecap="butt"/>
<line x1="409.5" y1="250.6" x2="415.5" y2="250.6" stroke="#555" stroke-width="0.9" stroke-linecap="butt"/>
<line x1="430.2" y1="253.8" x2="430.2" y2="275.8" stroke="#8c7a66" stroke-width="1.2" stroke-linecap="butt"/>
<circle cx="430.2" cy="254.0" r="2.1" fill="#eaa35c"/>
<circle cx="430.2" cy="275.6" r="2.1" fill="#eaa35c"/>
<circle cx="430.2" cy="260.8" r="2.1" fill="#eaa35c"/>
<line x1="427.4" y1="253.8" x2="433.0" y2="253.8" stroke="#eaa35c" stroke-width="1.3" stroke-linecap="butt"/>
<line x1="427.4" y1="275.8" x2="433.0" y2="275.8" stroke="#eaa35c" stroke-width="1.3" stroke-linecap="butt"/>
<line x1="424.4" y1="260.8" x2="436.0" y2="260.8" stroke="#5a4a3a" stroke-width="2.0" stroke-linecap="butt"/>
<rect x="461.8" y="230.2" width="7.8" height="2.4" fill="#777" stroke="#111" stroke-width="0.9"/>
<text x="475.7" y="233.9" font-size="7.2" textLength="21.3" lengthAdjust="spacingAndGlyphs" fill="#262626">control</text>
<rect x="461.8" y="240.8" width="7.8" height="2.4" fill="#f0c9a0" stroke="#8a7050" stroke-width="0.9"/>
<text x="475.7" y="244.6" font-size="7.2" textLength="22.8" lengthAdjust="spacingAndGlyphs" fill="#262626">G12(S)</text>
<text x="461.8" y="269.2" font-size="7.2" textLength="27.1" lengthAdjust="spacingAndGlyphs" fill="#262626"><tspan font-style="italic">P</tspan>=0.021</text>
<line x1="582.6" y1="225.95" x2="582.6" y2="312.85" stroke="#1c1c1c" stroke-width="1.6" stroke-linecap="butt"/>
<line x1="578.6" y1="312.1" x2="669.9" y2="312.1" stroke="#1c1c1c" stroke-width="1.6" stroke-linecap="butt"/>
<line x1="578.6" y1="226.7" x2="582.6" y2="226.7" stroke="#1c1c1c" stroke-width="1.5" stroke-linecap="butt"/>
<text x="562.32" y="229.6" font-size="7.9" textLength="8.68" lengthAdjust="spacingAndGlyphs" fill="#262626">10</text>
<text x="572.9" y="226.0" font-size="4.9" fill="#262626">6</text>
<line x1="578.6" y1="247.9" x2="582.6" y2="247.9" stroke="#1c1c1c" stroke-width="1.5" stroke-linecap="butt"/>
<text x="562.32" y="250.8" font-size="7.9" textLength="8.68" lengthAdjust="spacingAndGlyphs" fill="#262626">10</text>
<text x="572.9" y="247.20000000000002" font-size="4.9" fill="#262626">5</text>
<line x1="578.6" y1="269.4" x2="582.6" y2="269.4" stroke="#1c1c1c" stroke-width="1.5" stroke-linecap="butt"/>
<text x="562.32" y="272.29999999999995" font-size="7.9" textLength="8.68" lengthAdjust="spacingAndGlyphs" fill="#262626">10</text>
<text x="572.9" y="268.7" font-size="4.9" fill="#262626">4</text>
<line x1="578.6" y1="290.8" x2="582.6" y2="290.8" stroke="#1c1c1c" stroke-width="1.5" stroke-linecap="butt"/>
<text x="562.32" y="293.7" font-size="7.9" textLength="8.68" lengthAdjust="spacingAndGlyphs" fill="#262626">10</text>
<text x="572.9" y="290.1" font-size="4.9" fill="#262626">3</text>
<line x1="578.6" y1="312.1" x2="582.6" y2="312.1" stroke="#1c1c1c" stroke-width="1.5" stroke-linecap="butt"/>
<text x="562.32" y="315.0" font-size="7.9" textLength="8.68" lengthAdjust="spacingAndGlyphs" fill="#262626">10</text>
<text x="572.9" y="311.40000000000003" font-size="4.9" fill="#262626">2</text>
<line x1="602.4" y1="312.1" x2="602.4" y2="315.70000000000005" stroke="#1c1c1c" stroke-width="1.5" stroke-linecap="butt"/>
<line x1="648.5" y1="312.1" x2="648.5" y2="315.70000000000005" stroke="#1c1c1c" stroke-width="1.5" stroke-linecap="butt"/>
<text x="604.0" y="325.4" font-size="7.2" text-anchor="middle" textLength="16.4" lengthAdjust="spacingAndGlyphs" fill="#262626">3 dpi</text>
<text x="647.3" y="325.4" font-size="7.2" text-anchor="middle" textLength="16.4" lengthAdjust="spacingAndGlyphs" fill="#262626">4 dpi</text>
<text transform="translate(546.98,268.0) rotate(-90)" x="0" y="0" font-size="8.2" text-anchor="middle" fill="#262626">229E</text>
<text transform="translate(557.18,264.1) rotate(-90)" x="0" y="0" font-size="8.2" text-anchor="middle" textLength="85.4" lengthAdjust="spacingAndGlyphs" fill="#262626">medium RNA / pfu ratio</text>
<line x1="594.2" y1="282.7" x2="594.2" y2="291.2" stroke="#111" stroke-width="1.2" stroke-linecap="butt"/>
<circle cx="594.2" cy="282.9" r="1.8" fill="#111"/>
<line x1="591.8000000000001" y1="282.7" x2="596.6" y2="282.7" stroke="#111" stroke-width="1.1" stroke-linecap="butt"/>
<circle cx="589.9" cy="291.0" r="1.8" fill="#111"/>
<circle cx="598.4" cy="288.4" r="1.8" fill="#111"/>
<line x1="588.1" y1="288.4" x2="597.4" y2="288.4" stroke="#111" stroke-width="1.9" stroke-linecap="butt"/>
<line x1="590.0" y1="291.2" x2="597.0" y2="291.2" stroke="#333" stroke-width="1.0" stroke-linecap="butt"/>
<line x1="606.0" y1="246.8" x2="617.0" y2="246.8" stroke="#17324f" stroke-width="1.6" stroke-linecap="butt"/>
<rect x="605.5999999999999" y="245.10000000000002" width="3.4" height="3.4" fill="#1f5c96"/>
<rect x="613.6999999999999" y="245.10000000000002" width="3.4" height="3.4" fill="#1f5c96"/>
<line x1="609.0" y1="246.8" x2="613.6" y2="246.8" stroke="#17324f" stroke-width="1.6" stroke-linecap="butt"/>
<line x1="640.2" y1="289.3" x2="640.2" y2="303.7" stroke="#111" stroke-width="1.3" stroke-linecap="butt"/>
<circle cx="640.2" cy="289.5" r="1.8" fill="#111"/>
<line x1="637.8000000000001" y1="289.3" x2="642.6" y2="289.3" stroke="#111" stroke-width="1.1" stroke-linecap="butt"/>
<circle cx="640.2" cy="303.5" r="1.8" fill="#111"/>
<line x1="637.8000000000001" y1="303.7" x2="642.6" y2="303.7" stroke="#111" stroke-width="1.1" stroke-linecap="butt"/>
<line x1="634.5" y1="293.2" x2="645.7" y2="293.2" stroke="#111" stroke-width="2.0" stroke-linecap="butt"/>
<line x1="657.5" y1="270.0" x2="657.5" y2="292.6" stroke="#1f5c96" stroke-width="1.3" stroke-linecap="butt"/>
<circle cx="657.5" cy="270.2" r="1.8" fill="#1f5c96"/>
<line x1="655.1" y1="270.0" x2="659.9" y2="270.0" stroke="#1f5c96" stroke-width="1.1" stroke-linecap="butt"/>
<circle cx="657.5" cy="292.4" r="1.8" fill="#1f5c96"/>
<line x1="655.1" y1="292.6" x2="659.9" y2="292.6" stroke="#1f5c96" stroke-width="1.1" stroke-linecap="butt"/>
<line x1="652.0" y1="283.4" x2="663.0" y2="283.4" stroke="#173a5c" stroke-width="2.0" stroke-linecap="butt"/>
<text x="589.7" y="220.6" font-size="7.2" textLength="30.7" lengthAdjust="spacingAndGlyphs" fill="#262626"><tspan font-style="italic">P</tspan>&lt;0.0001</text>
<line x1="594.2" y1="226.7" x2="611.0" y2="226.7" stroke="#f1a081" stroke-width="1.8" stroke-linecap="butt"/>
<rect x="650.6" y="218.3" width="7.8" height="2.4" fill="#888" stroke="#111" stroke-width="0.9"/>
<text x="664.3" y="222.1" font-size="7.2" textLength="21.2" lengthAdjust="spacingAndGlyphs" fill="#262626">control</text>
<rect x="650.6" y="228.7" width="7.8" height="2.4" fill="#6b9cc8" stroke="#1f4f80" stroke-width="0.9"/>
<text x="664.3" y="232.5" font-size="7.2" textLength="20.6" lengthAdjust="spacingAndGlyphs" fill="#262626">G12(S)</text>
<line x1="59.9" y1="457.95" x2="59.9" y2="545.95" stroke="#1c1c1c" stroke-width="1.9" stroke-linecap="butt"/>
<line x1="55.9" y1="545.2" x2="143.4" y2="545.2" stroke="#1c1c1c" stroke-width="1.9" stroke-linecap="butt"/>
<line x1="55.9" y1="458.7" x2="59.9" y2="458.7" stroke="#1c1c1c" stroke-width="1.6" stroke-linecap="butt"/>
<text x="37.55" y="461.9" font-size="7.9" textLength="8.45" lengthAdjust="spacingAndGlyphs" fill="#262626">10</text>
<text x="47.9" y="458.2" font-size="5.0" fill="#262626">10</text>
<line x1="55.9" y1="480.5" x2="59.9" y2="480.5" stroke="#1c1c1c" stroke-width="1.6" stroke-linecap="butt"/>
<text x="37.55" y="483.7" font-size="7.9" textLength="8.45" lengthAdjust="spacingAndGlyphs" fill="#262626">10</text>
<text x="47.9" y="480.0" font-size="5.0" fill="#262626">9</text>
<line x1="55.9" y1="502.2" x2="59.9" y2="502.2" stroke="#1c1c1c" stroke-width="1.6" stroke-linecap="butt"/>
<text x="37.55" y="505.4" font-size="7.9" textLength="8.45" lengthAdjust="spacingAndGlyphs" fill="#262626">10</text>
<text x="47.9" y="501.7" font-size="5.0" fill="#262626">8</text>
<line x1="55.9" y1="523.6" x2="59.9" y2="523.6" stroke="#1c1c1c" stroke-width="1.6" stroke-linecap="butt"/>
<text x="37.55" y="526.8000000000001" font-size="7.9" textLength="8.45" lengthAdjust="spacingAndGlyphs" fill="#262626">10</text>
<text x="47.9" y="523.1" font-size="5.0" fill="#262626">7</text>
<line x1="55.9" y1="545.2" x2="59.9" y2="545.2" stroke="#1c1c1c" stroke-width="1.6" stroke-linecap="butt"/>
<text x="37.55" y="548.4000000000001" font-size="7.9" textLength="8.45" lengthAdjust="spacingAndGlyphs" fill="#262626">10</text>
<text x="47.9" y="544.7" font-size="5.0" fill="#262626">6</text>
<line x1="80.0" y1="545.2" x2="80.0" y2="548.8000000000001" stroke="#1c1c1c" stroke-width="1.6" stroke-linecap="butt"/>
<line x1="125.1" y1="545.2" x2="125.1" y2="548.8000000000001" stroke="#1c1c1c" stroke-width="1.6" stroke-linecap="butt"/>
<text x="79.1" y="559.0" font-size="8.6" text-anchor="middle" textLength="23.6" lengthAdjust="spacingAndGlyphs" fill="#262626">24 hpi</text>
<text x="125.2" y="559.0" font-size="8.6" text-anchor="middle" textLength="23.6" lengthAdjust="spacingAndGlyphs" fill="#262626">48 hpi</text>
<text transform="translate(33.44,503.0) rotate(-90)" x="0" y="0" font-size="8.4" text-anchor="middle" textLength="103.0" lengthAdjust="spacingAndGlyphs" fill="#262626">SARS-COV-2 medium RNA</text>
<line x1="67.9" y1="525.5" x2="67.9" y2="537.0" stroke="#111" stroke-width="1.3" stroke-linecap="butt"/>
<circle cx="67.9" cy="525.7" r="1.8" fill="#111"/>
<line x1="65.60000000000001" y1="525.5" x2="70.2" y2="525.5" stroke="#111" stroke-width="1.1" stroke-linecap="butt"/>
<circle cx="65.0" cy="537.3" r="1.9" fill="#111"/>
<circle cx="70.5" cy="536.8" r="1.9" fill="#111"/>
<line x1="63.4" y1="537.0" x2="72.0" y2="537.0" stroke="#111" stroke-width="2.0" stroke-linecap="butt"/>
<rect x="77.85000000000001" y="531.05" width="3.7" height="3.7" fill="#eaa35c"/>
<rect x="74.95" y="533.85" width="3.7" height="3.7" fill="#eaa35c"/>
<rect x="80.75" y="533.85" width="3.7" height="3.7" fill="#eaa35c"/>
<circle cx="79.7" cy="535.0" r="0.8" fill="#4a3a1a"/>
<line x1="92.2" y1="533.1" x2="92.2" y2="539.5" stroke="#2d4f85" stroke-width="1.1" stroke-linecap="butt"/>
<polygon points="88.2,531.98 91.8,531.98 90.0,535.22" fill="#7391c2"/>
<polygon points="92.8,531.98 96.39999999999999,531.98 94.6,535.22" fill="#7391c2"/>
<line x1="88.4" y1="533.1" x2="96.6" y2="533.1" stroke="#2d4f85" stroke-width="1.5" stroke-linecap="butt"/>
<polygon points="90.4,537.98 94.0,537.98 92.2,541.22" fill="#7391c2"/>
<line x1="113.1" y1="479.6" x2="113.1" y2="492.0" stroke="#111" stroke-width="1.3" stroke-linecap="butt"/>
<circle cx="113.1" cy="479.8" r="1.8" fill="#111"/>
<line x1="110.8" y1="479.6" x2="115.39999999999999" y2="479.6" stroke="#111" stroke-width="1.1" stroke-linecap="butt"/>
<circle cx="113.1" cy="491.8" r="1.8" fill="#111"/>
<line x1="110.8" y1="492.0" x2="115.39999999999999" y2="492.0" stroke="#111" stroke-width="1.1" stroke-linecap="butt"/>
<line x1="109.0" y1="486.0" x2="117.2" y2="486.0" stroke="#111" stroke-width="2.0" stroke-linecap="butt"/>
<line x1="125.4" y1="499.3" x2="125.4" y2="507.0" stroke="#5a4020" stroke-width="1.1" stroke-linecap="butt"/>
<circle cx="125.4" cy="499.4" r="2.0" fill="#eaa35c"/>
<rect x="120.89999999999999" y="506.0" width="3.8" height="3.8" fill="#eaa35c"/>
<rect x="126.19999999999999" y="504.70000000000005" width="3.8" height="3.8" fill="#eaa35c"/>
<circle cx="125.4" cy="507.0" r="0.9" fill="#4a3a1a"/>
<line x1="137.5" y1="510.6" x2="137.5" y2="515.0" stroke="#2d4f85" stroke-width="1.1" stroke-linecap="butt"/>
<polygon points="135.8,509.27000000000004 139.2,509.27000000000004 137.5,512.33" fill="#7391c2"/>
<polygon points="133.20000000000002,514.47 136.6,514.47 134.9,517.53" fill="#7391c2"/>
<polygon points="138.5,513.37 141.89999999999998,513.37 140.2,516.43" fill="#7391c2"/>
<line x1="133.6" y1="514.4" x2="141.5" y2="514.4" stroke="#2d4f85" stroke-width="1.4" stroke-linecap="butt"/>
<text x="121.3" y="492.4" font-size="8.8" textLength="10.6" lengthAdjust="spacingAndGlyphs" fill="#222" font-weight="bold">**</text>
<text x="134.4" y="503.8" font-size="8.8" textLength="10.2" lengthAdjust="spacingAndGlyphs" fill="#222" font-weight="bold">**</text>
<text x="116.4" y="446.9" font-size="6.8" textLength="32.3" lengthAdjust="spacingAndGlyphs" fill="#262626"><tspan font-style="italic">P</tspan>=0.0013</text>
<line x1="111.1" y1="451.5" x2="140.9" y2="451.5" stroke="#ef6f40" stroke-width="1.4" stroke-linecap="butt"/>
<text x="114.0" y="464.6" font-size="6.8" textLength="31.7" lengthAdjust="spacingAndGlyphs" fill="#262626"><tspan font-style="italic">P</tspan>=0.0026</text>
<line x1="111.1" y1="469.6" x2="128.1" y2="469.6" stroke="#ef6f40" stroke-width="1.4" stroke-linecap="butt"/>
<rect x="166.0" y="463.4" width="9.0" height="2.6" fill="#777" stroke="#111" stroke-width="0.9"/>
<text x="180.4" y="467.0" font-size="7.2" textLength="21.4" lengthAdjust="spacingAndGlyphs" fill="#262626">control</text>
<rect x="166.0" y="473.9" width="9.0" height="2.6" fill="#f0c9a0" stroke="#8a7050" stroke-width="0.9"/>
<text x="180.4" y="477.8" font-size="7.2" textLength="41.1" lengthAdjust="spacingAndGlyphs" fill="#262626">1 uM G12(S)</text>
<rect x="166.0" y="484.6" width="9.0" height="2.6" fill="#c9d8ee" stroke="#4f6f9f" stroke-width="0.9"/>
<text x="180.4" y="488.5" font-size="7.2" textLength="41.1" lengthAdjust="spacingAndGlyphs" fill="#262626">2 uM G12(S)</text>
<line x1="295.4" y1="457.95" x2="295.4" y2="545.75" stroke="#1c1c1c" stroke-width="1.9" stroke-linecap="butt"/>
<line x1="291.4" y1="545.0" x2="381.9" y2="545.0" stroke="#1c1c1c" stroke-width="1.9" stroke-linecap="butt"/>
<line x1="291.4" y1="458.6" x2="295.4" y2="458.6" stroke="#1c1c1c" stroke-width="1.6" stroke-linecap="butt"/>
<text x="276.97999999999996" y="462.5" font-size="8.2" textLength="8.22" lengthAdjust="spacingAndGlyphs" fill="#262626">10</text>
<text x="286.9" y="458.1" font-size="5.0" fill="#262626">8</text>
<line x1="291.4" y1="475.88" x2="295.4" y2="475.88" stroke="#1c1c1c" stroke-width="1.6" stroke-linecap="butt"/>
<text x="276.97999999999996" y="479.78" font-size="8.2" textLength="8.22" lengthAdjust="spacingAndGlyphs" fill="#262626">10</text>
<text x="286.9" y="475.38" font-size="5.0" fill="#262626">7</text>
<line x1="291.4" y1="493.16" x2="295.4" y2="493.16" stroke="#1c1c1c" stroke-width="1.6" stroke-linecap="butt"/>
<text x="276.97999999999996" y="497.06" font-size="8.2" textLength="8.22" lengthAdjust="spacingAndGlyphs" fill="#262626">10</text>
<text x="286.9" y="492.66" font-size="5.0" fill="#262626">6</text>
<line x1="291.4" y1="510.44000000000005" x2="295.4" y2="510.44000000000005" stroke="#1c1c1c" stroke-width="1.6" stroke-linecap="butt"/>
<text x="276.97999999999996" y="514.34" font-size="8.2" textLength="8.22" lengthAdjust="spacingAndGlyphs" fill="#262626">10</text>
<text x="286.9" y="509.94000000000005" font-size="5.0" fill="#262626">5</text>
<line x1="291.4" y1="527.72" x2="295.4" y2="527.72" stroke="#1c1c1c" stroke-width="1.6" stroke-linecap="butt"/>
<text x="276.97999999999996" y="531.62" font-size="8.2" textLength="8.22" lengthAdjust="spacingAndGlyphs" fill="#262626">10</text>
<text x="286.9" y="527.22" font-size="5.0" fill="#262626">4</text>
<line x1="291.4" y1="545.0" x2="295.4" y2="545.0" stroke="#1c1c1c" stroke-width="1.6" stroke-linecap="butt"/>
<text x="276.97999999999996" y="548.9" font-size="8.2" textLength="8.22" lengthAdjust="spacingAndGlyphs" fill="#262626">10</text>
<text x="286.9" y="544.5" font-size="5.0" fill="#262626">3</text>
<line x1="315.7" y1="545.0" x2="315.7" y2="548.6" stroke="#1c1c1c" stroke-width="1.6" stroke-linecap="butt"/>
<line x1="360.7" y1="545.0" x2="360.7" y2="548.6" stroke="#1c1c1c" stroke-width="1.6" stroke-linecap="butt"/>
<text x="315.7" y="559.6" font-size="8.6" text-anchor="middle" textLength="23.6" lengthAdjust="spacingAndGlyphs" fill="#262626">24 hpi</text>
<text x="361.8" y="559.6" font-size="8.6" text-anchor="middle" textLength="23.6" lengthAdjust="spacingAndGlyphs" fill="#262626">48 hpi</text>
<text transform="translate(269.71,499.0) rotate(-90)" x="0" y="0" font-size="8.3" text-anchor="middle" textLength="82.0" lengthAdjust="spacingAndGlyphs" fill="#262626">SARS-COV-2 pfu / mL</text>
<circle cx="300.1" cy="484.6" r="1.9" fill="#2f5cb0"/>
<circle cx="300.1" cy="487.8" r="1.9" fill="#2f5cb0"/>
<circle cx="305.9" cy="486.7" r="1.9" fill="#2f5cb0"/>
<circle cx="303.0" cy="486.2" r="1.9" fill="#2f5cb0"/>
<line x1="300.4" y1="486.2" x2="305.4" y2="486.2" stroke="#111" stroke-width="1.6" stroke-linecap="butt"/>
<rect x="313.2" y="519.8000000000001" width="3.6" height="3.6" fill="#b49c6b"/>
<rect x="310.5" y="523.3000000000001" width="3.6" height="3.6" fill="#b49c6b"/>
<rect x="315.9" y="522.9000000000001" width="3.6" height="3.6" fill="#b49c6b"/>
<line x1="313.0" y1="523.6" x2="317.0" y2="523.6" stroke="#4a3a1a" stroke-width="1.2" stroke-linecap="butt"/>
<circle cx="324.6" cy="538.3" r="1.7" fill="#ecebe3" stroke="#b5b3a8" stroke-width="0.6"/>
<circle cx="327.8" cy="536.7" r="1.7" fill="#ecebe3" stroke="#b5b3a8" stroke-width="0.6"/>
<circle cx="331.0" cy="538.3" r="1.7" fill="#ecebe3" stroke="#b5b3a8" stroke-width="0.6"/>
<line x1="325.5" y1="537.6" x2="330.0" y2="537.6" stroke="#555" stroke-width="1.1" stroke-linecap="butt"/>
<line x1="348.3" y1="464.9" x2="348.3" y2="473.4" stroke="#1d3a7a" stroke-width="1.2" stroke-linecap="butt"/>
<circle cx="348.3" cy="465.0" r="1.9" fill="#2f5cb0"/>
<circle cx="348.3" cy="473.3" r="1.9" fill="#2f5cb0"/>
<circle cx="345.9" cy="469.4" r="1.9" fill="#2f5cb0"/>
<circle cx="350.7" cy="469.4" r="1.9" fill="#2f5cb0"/>
<line x1="343.8" y1="469.4" x2="352.7" y2="469.4" stroke="#111" stroke-width="1.8" stroke-linecap="butt"/>
<line x1="360.5" y1="484.1" x2="360.5" y2="488.6" stroke="#4a3a1a" stroke-width="1.1" stroke-linecap="butt"/>
<rect x="356.1" y="482.20000000000005" width="3.8" height="3.8" fill="#b49c6b"/>
<rect x="361.20000000000005" y="482.20000000000005" width="3.8" height="3.8" fill="#b49c6b"/>
<circle cx="360.4" cy="488.6" r="2.0" fill="#b49c6b"/>
<line x1="358.0" y1="484.1" x2="363.0" y2="484.1" stroke="#4a3a1a" stroke-width="1.3" stroke-linecap="butt"/>
<line x1="372.8" y1="494.2" x2="372.8" y2="503.8" stroke="#555" stroke-width="1.1" stroke-linecap="butt"/>
<circle cx="372.7" cy="494.2" r="1.7" fill="#ecebe3" stroke="#b5b3a8" stroke-width="0.6"/>
<circle cx="370.0" cy="503.8" r="1.7" fill="#ecebe3" stroke="#b5b3a8" stroke-width="0.6"/>
<circle cx="375.8" cy="503.8" r="1.7" fill="#ecebe3" stroke="#b5b3a8" stroke-width="0.6"/>
<line x1="371.0" y1="503.6" x2="374.6" y2="503.6" stroke="#444" stroke-width="1.4" stroke-linecap="butt"/>
<text x="351.8" y="434.4" font-size="6.8" textLength="32.2" lengthAdjust="spacingAndGlyphs" fill="#262626"><tspan font-style="italic">P</tspan>=0.0005</text>
<line x1="346.0" y1="439.7" x2="375.9" y2="439.7" stroke="#f1a081" stroke-width="1.8" stroke-linecap="butt"/>
<text x="349.8" y="453.1" font-size="6.8" textLength="32.1" lengthAdjust="spacingAndGlyphs" fill="#262626"><tspan font-style="italic">P</tspan>=0.0002</text>
<line x1="346.0" y1="457.9" x2="363.7" y2="457.9" stroke="#f1a081" stroke-width="1.8" stroke-linecap="butt"/>
<rect x="401.3" y="462.8" width="8.6" height="3.0" fill="#7089be" stroke="#2a3f73" stroke-width="0.9"/>
<text x="415.7" y="467.1" font-size="7.2" textLength="21.6" lengthAdjust="spacingAndGlyphs" fill="#262626">control</text>
<rect x="401.3" y="473.6" width="8.6" height="3.0" fill="#e4d9bf" stroke="#7b6a45" stroke-width="0.9"/>
<text x="415.7" y="477.5" font-size="7.2" textLength="41.5" lengthAdjust="spacingAndGlyphs" fill="#262626">1 uM G12(S)</text>
<rect x="401.3" y="484.1" width="8.6" height="3.0" fill="#f4f4ef" stroke="#8c8c84" stroke-width="0.9"/>
<text x="415.7" y="488.0" font-size="7.2" textLength="41.5" lengthAdjust="spacingAndGlyphs" fill="#262626">2 uM G12(S)</text>
<line x1="510.1" y1="458.45" x2="510.1" y2="545.85" stroke="#1c1c1c" stroke-width="1.8" stroke-linecap="butt"/>
<line x1="506.1" y1="545.1" x2="596.9" y2="545.1" stroke="#1c1c1c" stroke-width="1.8" stroke-linecap="butt"/>
<line x1="506.1" y1="459.2" x2="510.1" y2="459.2" stroke="#1c1c1c" stroke-width="1.6" stroke-linecap="butt"/>
<text x="490.47" y="462.8" font-size="8.0" textLength="8.33" lengthAdjust="spacingAndGlyphs" fill="#262626">10</text>
<text x="500.8" y="458.59999999999997" font-size="5.0" fill="#262626">7</text>
<line x1="506.1" y1="480.675" x2="510.1" y2="480.675" stroke="#1c1c1c" stroke-width="1.6" stroke-linecap="butt"/>
<text x="490.47" y="484.27500000000003" font-size="8.0" textLength="8.33" lengthAdjust="spacingAndGlyphs" fill="#262626">10</text>
<text x="500.8" y="480.075" font-size="5.0" fill="#262626">6</text>
<line x1="506.1" y1="502.15" x2="510.1" y2="502.15" stroke="#1c1c1c" stroke-width="1.6" stroke-linecap="butt"/>
<text x="490.47" y="505.75" font-size="8.0" textLength="8.33" lengthAdjust="spacingAndGlyphs" fill="#262626">10</text>
<text x="500.8" y="501.54999999999995" font-size="5.0" fill="#262626">5</text>
<line x1="506.1" y1="523.625" x2="510.1" y2="523.625" stroke="#1c1c1c" stroke-width="1.6" stroke-linecap="butt"/>
<text x="490.47" y="527.225" font-size="8.0" textLength="8.33" lengthAdjust="spacingAndGlyphs" fill="#262626">10</text>
<text x="500.8" y="523.025" font-size="5.0" fill="#262626">4</text>
<line x1="506.1" y1="545.1" x2="510.1" y2="545.1" stroke="#1c1c1c" stroke-width="1.6" stroke-linecap="butt"/>
<text x="490.47" y="548.7" font-size="8.0" textLength="8.33" lengthAdjust="spacingAndGlyphs" fill="#262626">10</text>
<text x="500.8" y="544.5" font-size="5.0" fill="#262626">3</text>
<line x1="531.2" y1="545.1" x2="531.2" y2="548.7" stroke="#1c1c1c" stroke-width="1.6" stroke-linecap="butt"/>
<line x1="576.2" y1="545.1" x2="576.2" y2="548.7" stroke="#1c1c1c" stroke-width="1.6" stroke-linecap="butt"/>
<text x="531.1" y="559.6" font-size="8.6" text-anchor="middle" textLength="23.0" lengthAdjust="spacingAndGlyphs" fill="#262626">24 hpi</text>
<text x="577.2" y="559.6" font-size="8.6" text-anchor="middle" textLength="23.0" lengthAdjust="spacingAndGlyphs" fill="#262626">48 hpi</text>
<text transform="translate(478.11,503.5) rotate(-90)" x="0" y="0" font-size="8.3" text-anchor="middle" textLength="46.0" lengthAdjust="spacingAndGlyphs" fill="#262626">SARS-COV-2</text>
<text transform="translate(487.01,505.9) rotate(-90)" x="0" y="0" font-size="8.3" text-anchor="middle" textLength="85.6" lengthAdjust="spacingAndGlyphs" fill="#262626">medium RNA / pfu ratio</text>
<line x1="518.6" y1="536.2" x2="518.6" y2="545.0" stroke="#111" stroke-width="1.2" stroke-linecap="butt"/>
<circle cx="518.6" cy="536.2" r="1.9" fill="#111"/>
<circle cx="515.6" cy="544.4" r="1.9" fill="#111"/>
<circle cx="521.2" cy="544.4" r="1.9" fill="#111"/>
<line x1="531.2" y1="492.8" x2="531.2" y2="500.4" stroke="#1f5c96" stroke-width="1.2" stroke-linecap="butt"/>
<circle cx="531.2" cy="492.8" r="2.0" fill="#1f5c96"/>
<circle cx="531.2" cy="500.4" r="2.0" fill="#1f5c96"/>
<circle cx="531.2" cy="496.3" r="1.8" fill="#1f5c96"/>
<line x1="527.0" y1="496.3" x2="535.2" y2="496.3" stroke="#10304f" stroke-width="1.9" stroke-linecap="butt"/>
<line x1="543.6" y1="478.6" x2="543.6" y2="483.2" stroke="#6a5520" stroke-width="1.1" stroke-linecap="butt"/>
<polygon points="539.4,479.31 543.1999999999999,479.31 541.3,475.89000000000004" fill="#eec04c"/>
<polygon points="544.3000000000001,480.71 548.1,480.71 546.2,477.29" fill="#eec04c"/>
<polygon points="541.5,484.71 545.3,484.71 543.4,481.29" fill="#eec04c"/>
<line x1="539.7" y1="478.6" x2="547.6" y2="478.6" stroke="#6a5520" stroke-width="1.4" stroke-linecap="butt"/>
<circle cx="561.5" cy="516.6" r="1.9" fill="#222"/>
<circle cx="564.0" cy="515.4" r="1.9" fill="#222"/>
<circle cx="566.6" cy="516.2" r="1.9" fill="#222"/>
<line x1="560.5" y1="516.0" x2="567.5" y2="516.0" stroke="#111" stroke-width="1.0" stroke-linecap="butt"/>
<circle cx="574.4" cy="511.4" r="1.9" fill="#1f5c96"/>
<circle cx="578.8" cy="513.7" r="1.9" fill="#1f5c96"/>
<circle cx="576.0" cy="518.3" r="1.9" fill="#1f5c96"/>
<line x1="575.6" y1="511.4" x2="575.6" y2="518.0" stroke="#10304f" stroke-width="1.2" stroke-linecap="butt"/>
<line x1="572.2" y1="513.7" x2="579.0" y2="513.7" stroke="#10304f" stroke-width="1.6" stroke-linecap="butt"/>
<line x1="588.6" y1="502.9" x2="588.6" y2="510.0" stroke="#6a5520" stroke-width="1.1" stroke-linecap="butt"/>
<polygon points="584.6,504.31 588.4,504.31 586.5,500.89000000000004" fill="#eec04c"/>
<polygon points="589.2,505.31 593.0,505.31 591.1,501.89000000000004" fill="#eec04c"/>
<polygon points="586.6,511.90999999999997 590.4,511.90999999999997 588.5,508.49" fill="#eec04c"/>
<line x1="585.0" y1="502.9" x2="592.6" y2="502.9" stroke="#6a5520" stroke-width="1.4" stroke-linecap="butt"/>
<text x="518.1" y="466.0" font-size="7.0" textLength="31.6" lengthAdjust="spacingAndGlyphs" fill="#262626"><tspan font-style="italic">P</tspan>&lt;0.0001</text>
<line x1="514.8" y1="470.5" x2="543.8" y2="470.5" stroke="#f1a081" stroke-width="1.8" stroke-linecap="butt"/>
<rect x="617.0" y="463.2" width="9.0" height="3.0" fill="#777" stroke="#111" stroke-width="0.9"/>
<text x="631.0" y="467.4" font-size="7.2" textLength="21.7" lengthAdjust="spacingAndGlyphs" fill="#262626">control</text>
<rect x="617.0" y="474.1" width="9.0" height="3.0" fill="#6f9cc4" stroke="#1f4f80" stroke-width="0.9"/>
<text x="631.0" y="478.3" font-size="7.2" textLength="41.2" lengthAdjust="spacingAndGlyphs" fill="#262626">1 uM G12(S)</text>
<rect x="617.0" y="484.7" width="9.0" height="3.0" fill="#efd88a" stroke="#8a7030" stroke-width="0.9"/>
<text x="631.0" y="488.8" font-size="7.2" textLength="41.2" lengthAdjust="spacingAndGlyphs" fill="#262626">2 uM G12(S)</text>
</svg>
</body></html>
